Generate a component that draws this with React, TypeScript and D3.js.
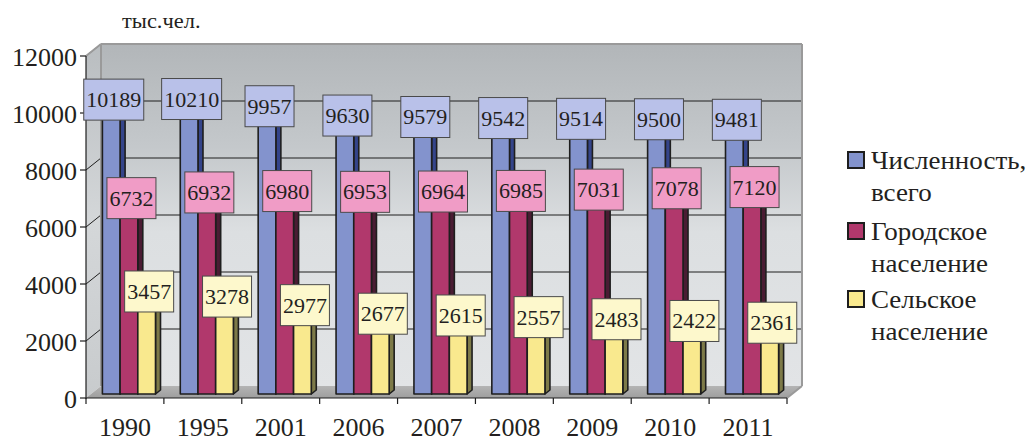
import React from "react";
import * as d3 from "d3";

const years = ["1990", "1995", "2001", "2006", "2007", "2008", "2009", "2010", "2011"];
const totalPop = [10189, 10210, 9957, 9630, 9579, 9542, 9514, 9500, 9481];
const urbanPop = [6732, 6932, 6980, 6953, 6964, 6985, 7031, 7078, 7120];
const ruralPop = [3457, 3278, 2977, 2677, 2615, 2557, 2483, 2422, 2361];
const seriesNames = ["Численность,|всего", "Городское|население", "Сельское|население"];
const yTicks = [0, 2000, 4000, 6000, 8000, 10000, 12000];
const unitLabel = "тыс.чел.";

const W = 1027;
const H = 441;
const FONT = "Liberation Serif, Tinos, Times New Roman, DejaVu Serif, serif";

const seriesStyle = [
  { front: "#8393cd", side: "#34448a", top: "#a9b4e0", label: "#b9c1e9" },
  { front: "#b1386c", side: "#4a1c33", top: "#c9628f", label: "#f09cc6" },
  { front: "#f9e98e", side: "#7d7a48", top: "#fbf2bd", label: "#fdf8cc" },
];

export default function App() {
  const x0 = 86, x1 = 787;
  const yFront = d3.scaleLinear().domain([0, 12000]).range([398, 56]);
  const xCat = d3.scaleBand<string>().domain(years).range([x0, x1]).paddingInner(0).paddingOuter(0);
  const xSer = d3.scaleBand<number>().domain([0, 1, 2]).range([0, xCat.bandwidth()]).paddingInner(0).paddingOuter(0.7);
  const DX = 15, DY = -12; // wall depth
  const bdx = 4, bdy = -4; // bar front offset
  const sdx = 5, sdy = -4; // bar depth
  const data = [totalPop, urbanPop, ruralPop];

  const floorY = yFront(0);
  const topY = yFront(12000);

  const bars: JSX.Element[] = [];
  const labels: JSX.Element[] = [];
  years.forEach((yr, ci) => {
    data.forEach((arr, si) => {
      const v = arr[ci];
      const st = seriesStyle[si];
      const fx = (xCat(yr) as number) + (xSer(si) as number) + bdx;
      const w = xSer.bandwidth();
      const top = yFront(v) + bdy;
      const bot = yFront(0) + bdy;
      bars.push(
        <g key={`b${ci}-${si}`} stroke="#1e1e1e" strokeWidth={1.6} strokeLinejoin="round">
          <polygon
            points={`${fx + w},${bot} ${fx + w},${top} ${fx + w + sdx},${top + sdy} ${fx + w + sdx},${bot + sdy}`}
            fill={st.side}
          />
          <polygon
            points={`${fx},${top} ${fx + sdx},${top + sdy} ${fx + w + sdx},${top + sdy} ${fx + w},${top}`}
            fill={st.top}
          />
          <rect x={fx} y={top} width={w} height={bot - top} fill={st.front} />
        </g>
      );
      const txt = String(v);
      const bw = txt.length * 11 + 5;
      const cx = fx + w / 2 + 2.5;
      const cy = top - 4;
      labels.push(
        <g key={`l${ci}-${si}`}>
          <rect x={cx - bw / 2} y={cy - 20.5} width={bw} height={41} fill={st.label} stroke="#4a4a4a" strokeWidth={1} />
          <text x={cx} y={cy + 7.5} textAnchor="middle" fontSize={22} fill="#231f20">
            {txt}
          </text>
        </g>
      );
    });
  });

  const legendRows = [
    { y: 169, lines: seriesNames[0].split("|") },
    { y: 240, lines: seriesNames[1].split("|") },
    { y: 308, lines: seriesNames[2].split("|") },
  ];

  return (
    <svg
      width={W}
      height={H}
      style={{ position: "absolute", left: 0, top: 0, background: "#fff", fontFamily: FONT }}
    >
      <defs>
        <linearGradient id="backWall" x1="0" y1="0" x2="0" y2="1">
          <stop offset="0%" stopColor="#b2b6b9" />
          <stop offset="30%" stopColor="#c4c8cb" />
          <stop offset="55%" stopColor="#dcdfe1" />
          <stop offset="100%" stopColor="#e2e4e6" />
        </linearGradient>
        <linearGradient id="sideWall" x1="0" y1="0" x2="0" y2="1">
          <stop offset="0%" stopColor="#b9bdc0" />
          <stop offset="50%" stopColor="#d4d7d9" />
          <stop offset="100%" stopColor="#c8cbcd" />
        </linearGradient>
        <linearGradient id="floor" x1="0" y1="0" x2="0" y2="1">
          <stop offset="0%" stopColor="#b4b4b4" />
          <stop offset="100%" stopColor="#9e9e9e" />
        </linearGradient>
      </defs>

      <text transform="translate(122,28) scale(1.07,1)" fontSize={21} fill="#231f20">{unitLabel}</text>

      {/* walls */}
      <polygon
        points={`${x0 + DX},${topY + DY} ${x1 + DX},${topY + DY} ${x1 + DX},${floorY + DY} ${x0 + DX},${floorY + DY}`}
        fill="url(#backWall)"
      />
      <polygon
        points={`${x0},${topY} ${x0 + DX},${topY + DY} ${x0 + DX},${floorY + DY} ${x0},${floorY}`}
        fill="url(#sideWall)"
      />
      <polygon
        points={`${x0},${floorY} ${x0 + DX},${floorY + DY} ${x1 + DX},${floorY + DY} ${x1},${floorY}`}
        fill="url(#floor)"
      />
      {/* gridlines */}
      {yTicks.filter((t) => t > 0).map((t) => (
        <g key={`g${t}`} stroke="#1e1e1e" strokeWidth={1}>
          <line x1={x0 + DX} x2={x1 + DX} y1={yFront(t) + DY} y2={yFront(t) + DY} />
          <line x1={x0} x2={x0 + DX} y1={yFront(t)} y2={yFront(t) + DY} />
        </g>
      ))}
      {/* wall edges */}
      <g stroke="#9a9a9a" strokeWidth={2} fill="none">
        <line x1={x0 + DX} x2={x0 + DX} y1={topY + DY} y2={floorY + DY} />
        <line x1={x1 + DX} x2={x1 + DX} y1={topY + DY} y2={floorY + DY} />
        <line x1={x0 + DX} x2={x1 + DX} y1={topY + DY} y2={topY + DY} />
        <line x1={x0} x2={x0 + DX} y1={topY} y2={topY + DY} />
        <line x1={x1} x2={x1 + DX} y1={floorY} y2={floorY + DY} />
      </g>

      {bars}

      {/* axes */}
      <line x1={x0} x2={x0} y1={topY} y2={floorY + 1} stroke="#1e1e1e" strokeWidth={1.2} />
      <line x1={x0} x2={x1} y1={floorY} y2={floorY} stroke="#1e1e1e" strokeWidth={1.2} />
      {yTicks.map((t) => (
        <g key={`yt${t}`}>
          <line x1={x0 - 6} x2={x0} y1={yFront(t)} y2={yFront(t)} stroke="#1e1e1e" strokeWidth={1.2} />
          <text x={x0 - 9} y={yFront(t) + 9.5} textAnchor="end" fontSize={26} fill="#231f20">
            {t}
          </text>
        </g>
      ))}
      {years.map((yr) => (
        <g key={`xt${yr}`}>
          <line
            x1={xCat(yr) as number}
            x2={xCat(yr) as number}
            y1={floorY}
            y2={floorY + 6}
            stroke="#1e1e1e"
            strokeWidth={1.2}
          />
          <text
            x={(xCat(yr) as number) + xCat.bandwidth() / 2}
            y={436}
            textAnchor="middle"
            fontSize={26}
            fill="#231f20"
          >
            {yr}
          </text>
        </g>
      ))}
      <line x1={x1} x2={x1} y1={floorY} y2={floorY + 6} stroke="#1e1e1e" strokeWidth={1.2} />

      {labels}

      {/* legend */}
      {legendRows.map((r, i) => (
        <g key={`lg${i}`}>
          <rect x={848} y={r.y - 17} width={16} height={16} fill={seriesStyle[i].front} stroke="#1e1e1e" strokeWidth={2} />
          {r.lines.map((ln, li) => (
            <text
              key={li}
              transform={`translate(871,${r.y + li * 32}) scale(1.08,1)`}
              fontSize={25}
              fill="#231f20"
            >
              {ln}
            </text>
          ))}
        </g>
      ))}
    </svg>
  );
}
